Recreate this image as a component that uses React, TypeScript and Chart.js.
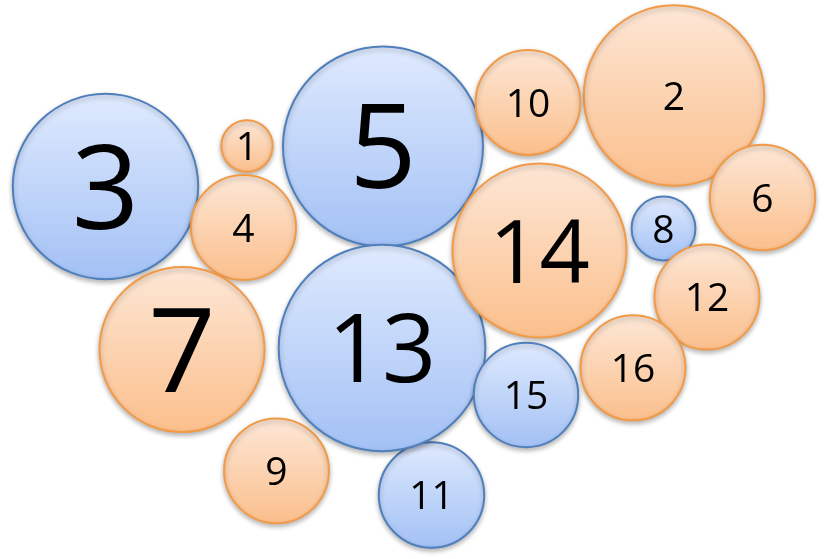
import React, { useEffect, useRef } from "react";
import { Chart, registerables } from "chart.js";

Chart.register(...registerables);

// ---- data ----
const labels = ["1", "2", "3", "4", "5", "6", "7", "8", "9", "10", "11", "12", "13", "14", "15", "16"];
const xs = [247, 674, 105.5, 243.5, 383, 762.5, 182, 663.5, 276.5, 528, 431.5, 707, 382, 539.5, 526, 633];
const ys = [146, 95.5, 186.5, 227.5, 146.5, 197.5, 349.5, 228.5, 470.8, 102.5, 495, 297, 348, 250.5, 395, 367.8];
const rs = [25.7, 90.2, 92.7, 52.5, 100, 52.7, 82.5, 31.9, 52.4, 52.4, 52.7, 52.5, 103.3, 87, 52.2, 52.5];
const groups = ["o", "o", "b", "o", "b", "o", "o", "b", "o", "o", "b", "o", "b", "o", "b", "o"];

// ---- styles ----
const labelFontSizes = [39, 39, 118, 39, 118, 39, 118, 39, 39, 39, 39, 39, 95, 88, 39, 39];
const palette: Record<string, { top: string; bottom: string; border: string }> = {
  o: { top: "#fde7d6", bottom: "#fbbf8c", border: "#f39a47" },
  b: { top: "#dfeafe", bottom: "#a3c1f5", border: "#4f7fbc" },
};
const FONT = '"Open Sans", "Noto Sans", sans-serif';

export default function App() {
  const ref = useRef<HTMLCanvasElement | null>(null);

  useEffect(() => {
    document.body.style.margin = "0";
    const canvas = ref.current;
    if (!canvas) return;

    const shadowPlugin = {
      id: "shadowAndLabels",
      beforeDatasetsDraw(chart: any) {
        const c = chart.ctx;
        c.save();
        c.shadowColor = "rgba(0,0,0,0.28)";
        c.shadowBlur = 5;
        c.shadowOffsetX = 0;
        c.shadowOffsetY = 2.5;
      },
      afterDatasetsDraw(chart: any) {
        const c = chart.ctx;
        c.restore();
        const meta = chart.getDatasetMeta(0);
        c.save();
        c.fillStyle = "#000";
        c.textAlign = "center";
        c.textBaseline = "alphabetic";
        meta.data.forEach((el: any, i: number) => {
          c.font = `${labelFontSizes[i]}px ${FONT}`;
          const m = c.measureText(labels[i]);
          const asc = m.actualBoundingBoxAscent || labelFontSizes[i] * 0.714;
          const desc = m.actualBoundingBoxDescent || 0;
          c.fillText(labels[i], el.x, el.y + (asc - desc) / 2);
        });
        c.restore();
      },
    };

    const grad = (ctx: any, key: "o" | "b") => {
      const chart = ctx.chart;
      const i = ctx.dataIndex;
      if (i == null || !chart.chartArea || !chart.scales?.y) return palette[key].bottom;
      const y = chart.scales.y.getPixelForValue(ys[i]);
      const r = rs[i];
      const g = chart.ctx.createLinearGradient(0, y - r, 0, y + r);
      g.addColorStop(0, palette[key].top);
      g.addColorStop(1, palette[key].bottom);
      return g;
    };

    const chart = new Chart(canvas, {
      type: "bubble",
      data: {
        labels,
        datasets: [
          {
            label: "bubbles",
            data: xs.map((x, i) => ({ x, y: ys[i], r: rs[i] })),
            backgroundColor: (ctx: any) => {
              const i = ctx.dataIndex;
              const k = (i == null ? "o" : groups[i]) as "o" | "b";
              return grad(ctx, k);
            },
            borderColor: (ctx: any) => {
              const i = ctx.dataIndex;
              return palette[i == null ? "o" : groups[i]].border;
            },
            borderWidth: 2,
            hoverBorderWidth: 2,
            clip: false as any,
          },
        ],
      },
      options: {
        animation: false,
        responsive: false,
        events: [],
        layout: { padding: 0, autoPadding: false },
        plugins: { legend: { display: false }, tooltip: { enabled: false } },
        scales: {
          x: { type: "linear", min: 0, max: 824, display: false },
          y: { type: "linear", min: 0, max: 559, reverse: true, display: false },
        },
      },
      plugins: [shadowPlugin],
    });

    return () => chart.destroy();
  }, []);

  return (
    <div style={{ position: "absolute", left: 0, top: 0, width: 824, height: 559, background: "#fff" }}>
      <canvas ref={ref} width={824} height={559} style={{ display: "block" }} />
    </div>
  );
}
